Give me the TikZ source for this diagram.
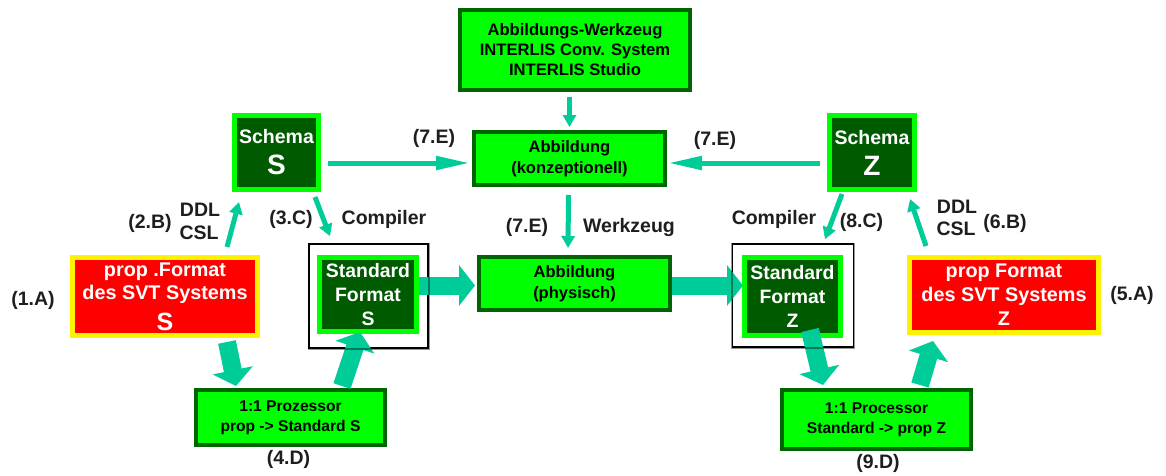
\documentclass[tikz,border=0pt]{standalone}
\usepackage{fontspec}
\setmainfont{Liberation Sans}
\usetikzlibrary{arrows.meta,calc}
\definecolor{brgreen}{RGB}{0,255,0}
\definecolor{dkgreen}{RGB}{0,100,0}
\definecolor{schemafill}{RGB}{0,90,0}
\definecolor{arrowteal}{RGB}{0,204,153}
\definecolor{lbl}{RGB}{30,30,30}
\newcommand{\fsz}[2]{\fontsize{#1}{#2}\selectfont}
\begin{document}
\begin{tikzpicture}[x=1pt,y=-1pt,
 every node/.style={align=center, inner sep=0pt},
 gbox/.style={draw=dkgreen, fill=brgreen, line width=4pt, text=black},
 sbox/.style={draw=brgreen, fill=schemafill, line width=5pt, text=white},
 rbox/.style={draw=yellow, fill=red, line width=5pt, text=white},
 frame/.style={draw=black, line width=1.5pt},
 lab/.style={font=\bfseries\fsz{19.5}{21}, text=lbl},
 linearrow/.style={draw=arrowteal, line width=5pt, -{Triangle[length=12pt,width=13pt]}},
 longarrow/.style={draw=arrowteal, line width=5pt, -{Triangle[length=34pt,width=13pt]}},
 blockarrow/.style={draw=arrowteal, line width=18pt, -{Triangle[length=16pt,width=40pt]}}]
\useasboundingbox[fill=white] (0,0) rectangle (1166,475);

% frames
\node[frame, minimum width=119, minimum height=104] (stdSframe) at (368.5,296) {};
\node[frame, minimum width=121, minimum height=103] (stdZframe) at (793,295.5) {};

% green boxes
\node[gbox, minimum width=230, minimum height=80, font=\bfseries\fsz{16.6}{20}] (tool) at (575,50)
  {Abbildungs-Werkzeug\\INTERLIS Conv. System\\INTERLIS Studio};
\node[gbox, minimum width=191, minimum height=53, font=\bfseries\fsz{16.5}{21}] (konz) at (569.5,158.5)
  {Abbildung\\(konzeptionell)};
\node[gbox, minimum width=191, minimum height=53, font=\bfseries\fsz{16.5}{21}] (phys) at (574.5,283.5)
  {Abbildung\\(physisch)};
\node[gbox, minimum width=189, minimum height=55, font=\bfseries\fsz{15.6}{20}] (prozS) at (290.5,417.5)
  {1:1 Prozessor\\prop -> Standard S};
\node[gbox, minimum width=189, minimum height=59, font=\bfseries\fsz{15.6}{20}] (procZ) at (876.5,419.5)
  {1:1 Processor\\Standard -> prop Z};

% schema boxes
\node[sbox, minimum width=84, minimum height=74, font=\bfseries\fsz{19.5}{24}] (schS) at (276.5,152.5)
  {Schema\\[7pt]{\fsz{28}{28}S}};
\node[sbox, minimum width=85, minimum height=74, font=\bfseries\fsz{19.5}{24}] (schZ) at (872,152.5)
  {Schema\\[7pt]{\fsz{28}{28}Z}};

% standard format boxes
\node[sbox, minimum width=97, minimum height=74, font=\bfseries\fsz{19.4}{24}] (stdS) at (368,294.5)
  {Standard\\Format\\S};
\node[sbox, minimum width=96, minimum height=78, font=\bfseries\fsz{19.4}{24}] (stdZ) at (792.5,296.5)
  {Standard\\Format\\Z};

% red boxes
\node[rbox, minimum width=185, minimum height=78, font=\bfseries\fsz{19.8}{23}] (propS) at (165,296.5)
  {prop .Format\\des SVT Systems\\[8pt]{\fsz{25}{25}S}};
\node[rbox, minimum width=189, minimum height=75, font=\bfseries\fsz{19.8}{24}] (propZ) at (1004,295)
  {prop Format\\des SVT Systems\\Z};

% labels
\node[lab] (l1A) at (33,300) {(1.A)};
\node[lab] (l2B) at (150,223) {(2.B)};
\node[lab] (lddlS) at (200,210) {DDL};
\node[lab] (lcslS) at (199,233) {CSL};
\node[lab] (l3C) at (291,219) {(3.C)};
\node[lab] (lcompS) at (384,219) {Compiler};
\node[lab] (l7Ea) at (434,138) {(7.E)};
\node[lab] (l7Eb) at (715,140) {(7.E)};
\node[lab] (l7Ec) at (527,227) {(7.E)};
\node[lab] (lwz) at (629,227) {Werkzeug};
\node[lab] (lcompZ) at (774,219) {Compiler};
\node[lab] (l8C) at (861.5,222) {(8.C)};
\node[lab] (lddlZ) at (957,207) {DDL};
\node[lab] (lcslZ) at (956,229) {CSL};
\node[lab] (l6B) at (1005,223) {(6.B)};
\node[lab] (l5A) at (1132,295) {(5.A)};
\node[lab] (l4D) at (288.5,459) {(4.D)};
\node[lab] (l9D) at (878,463) {(9.D)};

% thin arrows
\draw[linearrow] ($(tool.south -| konz.north)+(0,5)$) -- ($(konz.north)+(0,-3)$);
\draw[longarrow] ($(schS.east)+(7,10.5)$) -- ($(konz.west)+(-2,4.5)$);
\draw[longarrow] ($(schZ.west)+(-7,10.5)$) -- ($(konz.east)+(1,4.5)$);
\draw[linearrow] ($(konz.south)+(-1,8)$) -- ($(phys.north)+(-6.5,-7)$);
\draw[linearrow] ($(propS.north)+(62,-8)$) -- ($(schS.south)+(-37.5,10)$);
\draw[linearrow] ($(schS.south)+(38.5,5)$) -- ($(stdSframe.north)+(-38.5,-7)$);
\draw[linearrow] ($(schZ.south)+(-30,2)$) -- ($(stdZframe.north)+(32,-4)$);
\draw[linearrow] ($(propZ.north)+(-78,-9)$) -- ($(schZ.south)+(38,7)$);

% block arrows
\draw[blockarrow] ($(stdS.east)+(0,-9)$) -- ($(phys.west)+(-2,2)$);
\draw[blockarrow] ($(phys.east)+(0,2)$) -- ($(stdZ.west)+(1,-11)$);
\draw[blockarrow] ($(propS.south)+(62,4)$) -- ($(prozS.north)+(-54.5,-2)$);
\draw[blockarrow] ($(prozS.north)+(51.5,-2)$) -- ($(stdS.south)+(-8,-2)$);
\draw[blockarrow] ($(stdZ.south)+(17.5,-8)$) -- ($(procZ.north)+(-53.5,-3)$);
\draw[blockarrow] ($(procZ.north)+(43.5,-3)$) -- ($(propZ.south)+(-71,6)$);

% frame lines faintly visible through the block arrows
\draw[black, line width=1.5pt, draw opacity=0.4] (stdSframe.north west) rectangle (stdSframe.south east);
\draw[black, line width=1.5pt, draw opacity=0.4] (stdZframe.north west) rectangle (stdZframe.south east);
\end{tikzpicture}
\end{document}
